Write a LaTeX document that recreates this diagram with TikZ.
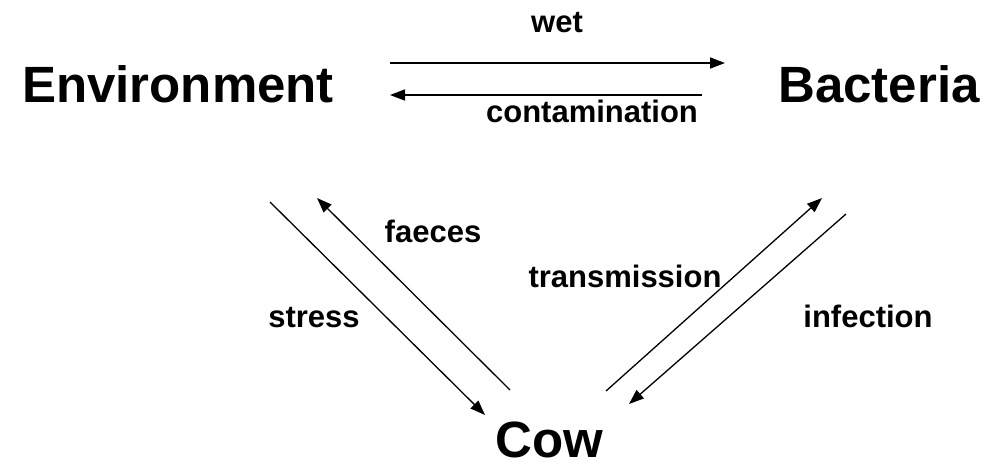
\documentclass[tikz,border=0pt]{standalone}
\usepackage{fontspec}
\setmainfont{Liberation Sans}
\usetikzlibrary{arrows.meta}
\tikzset{
  big/.style={font=\bfseries\fontsize{51}{61}\selectfont, inner sep=0pt, anchor=base},
  lab/.style={font=\bfseries\fontsize{31}{37}\selectfont, inner sep=0pt, anchor=base},
  arr/.style={line width=1.6pt, -{Triangle[length=15pt,width=11pt]}},
  darr/.style={line width=1.3pt, -{Triangle[length=15pt,width=11pt]}}
}
\begin{document}
\begin{tikzpicture}[x=1pt,y=-1pt]
\useasboundingbox (0,0) rectangle (996,467);
\node[big] (env) at (178,102) {Environment};
\node[big] (bac) at (879,102) {Bacteria};
\node[big] (cow) at (549,457) {Cow};
\node[lab] (wet) at (557,32) {wet};
\node[lab] (cont) at (592,122) {contamination};
\node[lab] (faec) at (433,242) {faeces};
\node[lab] (stress) at (314,327) {stress};
\node[lab] (trans) at (625,287) {transmission};
\node[lab] (inf) at (868,327) {infection};
\coordinate (w1) at (390,63);
\coordinate (w2) at (725,63);
\coordinate (c1) at (702,95);
\coordinate (c2) at (390,95);
\coordinate (s1) at (270,202);
\coordinate (s2) at (485,415);
\coordinate (f1) at (510,390);
\coordinate (f2) at (317,198);
\coordinate (t1) at (606,391);
\coordinate (t2) at (822,198);
\coordinate (i1) at (846,214);
\coordinate (i2) at (629,404);
\draw[arr] (w1) -- (w2);
\draw[arr] (c1) -- (c2);
\draw[darr] (s1) -- (s2);
\draw[darr] (f1) -- (f2);
\draw[darr] (t1) -- (t2);
\draw[darr] (i1) -- (i2);
\end{tikzpicture}
\end{document}
